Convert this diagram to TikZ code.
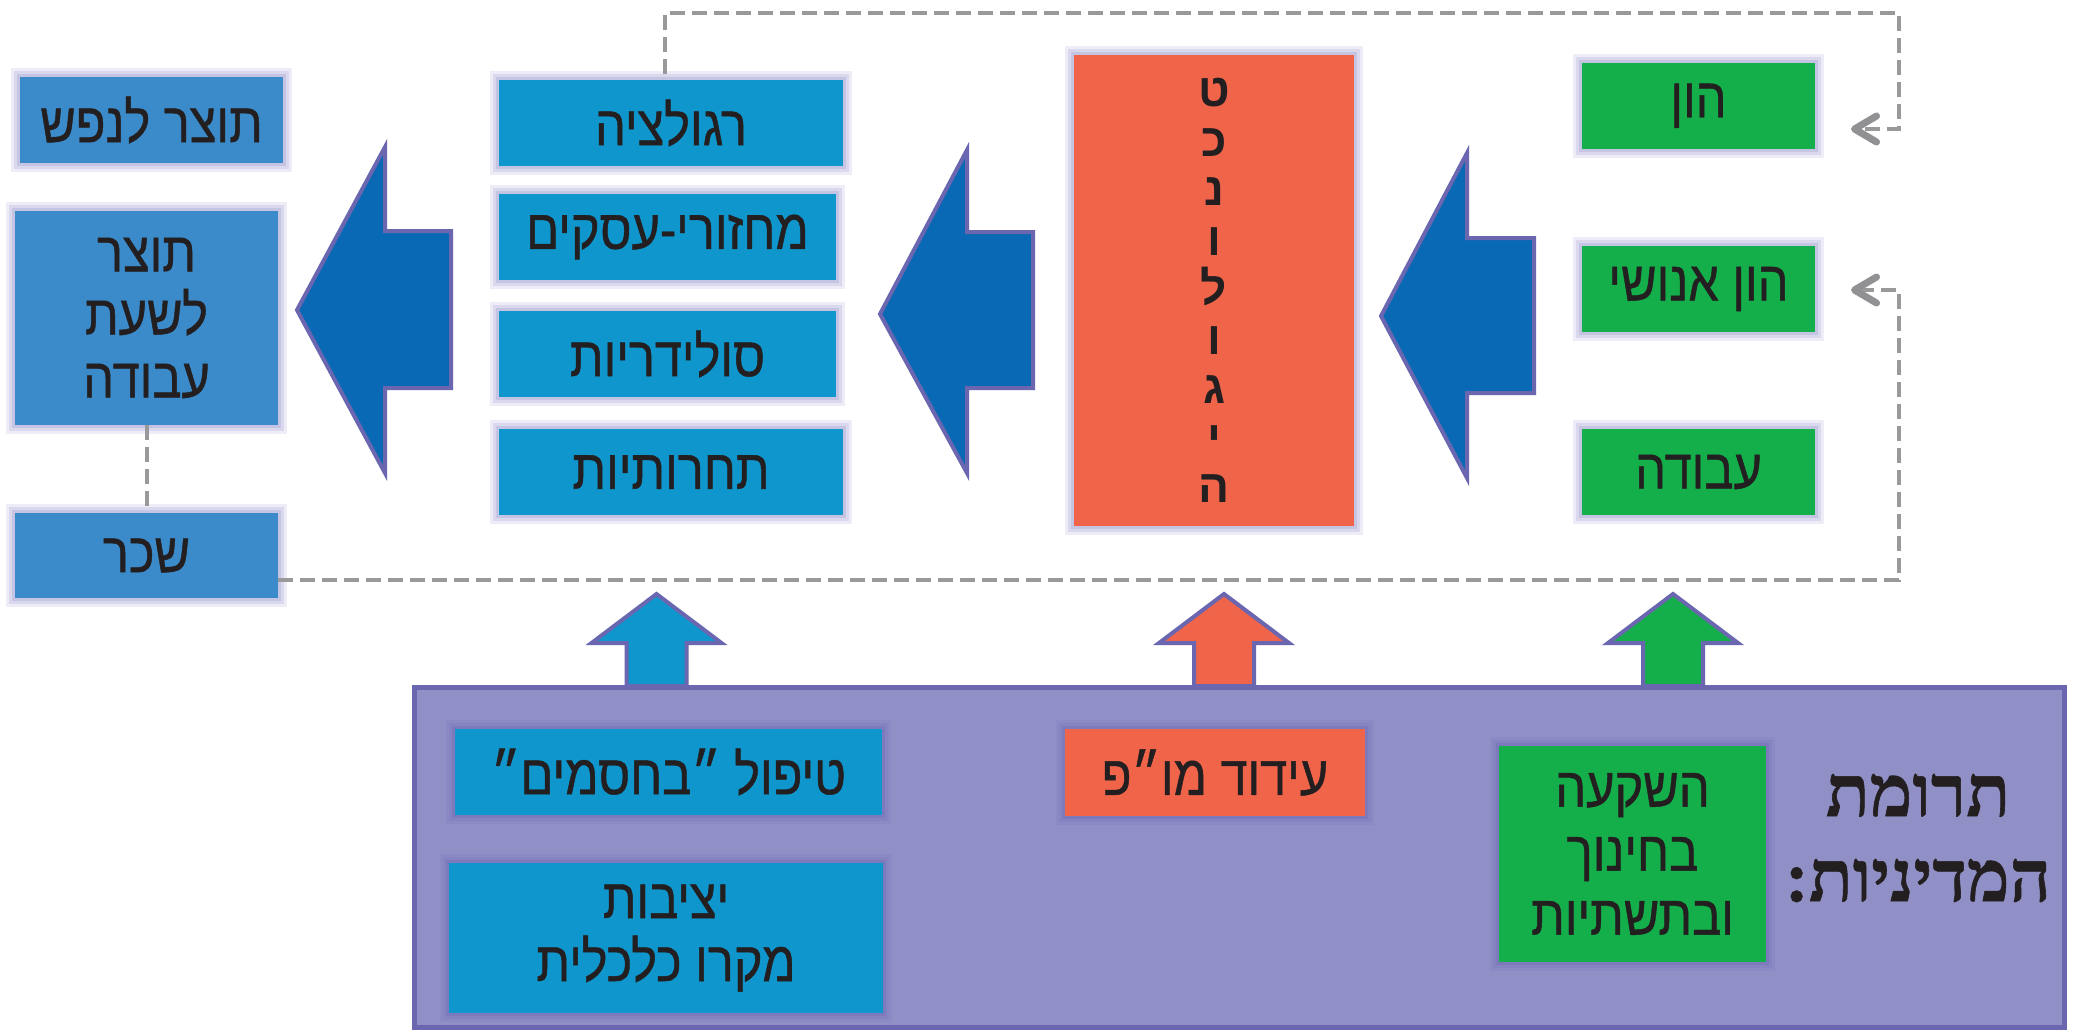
\documentclass[tikz,border=0pt]{standalone}
\usepackage{fontspec}
\setmainfont{Liberation Sans}
\newfontfamily\hebsans[Script=Hebrew, FakeStretch=0.87, FakeBold=0.8]{Liberation Sans}
\newfontfamily\hebbold[Script=Hebrew]{Liberation Sans}
\newfontfamily\hebserif[Script=Hebrew, FakeBold=0.8]{Liberation Serif}
\TeXXeTstate=1
\usetikzlibrary{arrows.meta}
\newcommand{\heb}[1]{\beginR #1\endR}
\definecolor{colLeft}{RGB}{59,138,201}
\definecolor{colMid}{RGB}{15,150,205}
\definecolor{colArrow}{RGB}{10,105,180}
\definecolor{colBorder}{RGB}{106,102,176}
\definecolor{colOrange}{RGB}{240,100,74}
\definecolor{colGreen}{RGB}{20,175,75}
\definecolor{colBig}{RGB}{145,144,198}
\definecolor{colGlowA}{RGB}{238,237,247}
\definecolor{colGlowB}{RGB}{218,216,237}
\definecolor{colGlowC}{RGB}{198,196,227}
\definecolor{colInGlowA}{RGB}{140,138,196}
\definecolor{colInGlowB}{RGB}{133,131,192}
\definecolor{colInGlowC}{RGB}{124,122,188}
\definecolor{colDash}{RGB}{153,153,153}
\definecolor{colTip}{RGB}{145,145,148}
\definecolor{colText}{RGB}{35,31,32}
\begin{document}
\begin{tikzpicture}[x=0.5pt,y=-0.5pt,
  box/.style={rectangle, inner sep=0pt, outer sep=0pt, align=center, text=colText,
    font=\hebsans\fontsize{28pt}{31.5pt}\selectfont},
  glow/.style={preaction={draw=colGlowA,line width=9pt}, preaction={draw=colGlowB,line width=6pt}, preaction={draw=colGlowC,line width=3pt}},
  inglow/.style={preaction={draw=colInGlowA,line width=9pt}, preaction={draw=colInGlowB,line width=6pt}, preaction={draw=colInGlowC,line width=3pt}},
  leftbox/.style={box, glow, fill=colLeft, minimum width=131.5pt},
  midbox/.style={box, glow, fill=colMid, minimum height=43pt},
  greenbox/.style={box, glow, fill=colGreen, minimum width=116.5pt, minimum height=42.75pt},
  blockarrow/.style={fill=colArrow, draw=colBorder, line width=2pt, line join=miter},
  uparrow/.style={draw=colBorder, line width=2pt, line join=miter},
  dashline/.style={draw=colDash, line width=2pt, dash pattern=on 7.5pt off 3.5pt},
  tipped/.style={-{Straight Barb[length=11pt,width=13pt,line width=3.5pt,round,color=colTip]}}
]
\useasboundingbox (0,0) rectangle (2076,1029);
\fill[white] (0,0) rectangle (2076,1029);

% left column
\node[leftbox, minimum height=43pt] (L1) at (151.5,120) {\heb{תוצר לנפש}};
\node[leftbox, minimum height=107pt] (L2) at (146.5,318) {\heb{תוצר}\\\heb{לשעת}\\\heb{עבודה}};
\node[leftbox, minimum height=42.5pt] (L3) at (146.5,555.5) {\heb{שכר}};

% middle column
\node[midbox, minimum width=172pt] (M1) at (671,123) {\heb{רגולציה}};
\node[midbox, minimum width=168.5pt] (M2) at (667.5,237) {\heb{מחזורי-עסקים}};
\node[midbox, minimum width=168.5pt] (M3) at (667.5,354) {\heb{סולידריות}};
\node[midbox, minimum width=172pt] (M4) at (671,472) {\heb{תחרותיות}};

% technology
\node[box, glow, fill=colOrange, minimum width=140pt, minimum height=235.5pt] (T) at (1214,290.5) {};
\node[align=center, text=colText, font=\hebbold\bfseries\fontsize{23pt}{24.75pt}\selectfont] (Tletters) at (T.center)
  {\heb{ט}\\\heb{כ}\\\heb{נ}\\\heb{ו}\\\heb{ל}\\\heb{ו}\\\heb{ג}\\\heb{י}\\\heb{ה}};

% inputs
\node[greenbox] (G1) at (1698.5,105.75) {\heb{הון}};
\node[greenbox] (G2) at (1698.5,289) {\heb{הון אנושי}};
\node[greenbox] (G3) at (1698.5,472) {\heb{עבודה}};

% block arrows
\draw[blockarrow] (297,310) -- (385,147) -- (385,231) -- (451,231) -- (451,388) -- (385,388) -- (385,473) -- cycle;
\draw[blockarrow] (880,314) -- (967,150) -- (967,232) -- (1033,232) -- (1033,388) -- (967,388) -- (967,473) -- cycle;
\draw[blockarrow] (1381,316) -- (1467,153) -- (1467,238) -- (1534,238) -- (1534,393) -- (1467,393) -- (1467,478) -- cycle;

% dashed connectors
\coordinate (A1) at (665,13);
\coordinate (A2) at (1899,13);
\coordinate (A3) at (1899,129);
\coordinate (tipA) at (1851,129);
\coordinate (B1) at (1899,580);
\coordinate (B2) at (1899,290);
\coordinate (tipB) at (1851,290);
\draw[dashline] (L2.south) -- (L3.north);
\draw[dashline, tipped] ([xshift=-3pt,yshift=3pt]M1.north) -- (A1) -- (A2) -- (A3) -- (tipA);
\draw[dashline, tipped] ([yshift=-12.25pt]L3.east) -- (B1) -- (B2) -- (tipB);

% policy box
\node[rectangle, fill=colBig, draw=colBorder, line width=2.5pt, minimum width=825pt, minimum height=170pt, inner sep=0pt] (P) at (1239,857) {};

% up arrows
\draw[uparrow, fill=colMid] (656.5,594) -- (721.5,643) -- (686.5,643) -- (686.5,686) -- (626.5,686) -- (626.5,643) -- (591.5,643) -- cycle;
\draw[uparrow, fill=colOrange] (1224,594) -- (1289,643) -- (1254,643) -- (1254,686) -- (1194,686) -- (1194,643) -- (1159,643) -- cycle;
\draw[uparrow, fill=colGreen] (1673,594) -- (1738,643) -- (1703,643) -- (1703,686) -- (1643,686) -- (1643,643) -- (1608,643) -- cycle;

% policy items
\node[box, inglow, fill=colMid, minimum width=213.5pt, minimum height=43pt] (PB1) at (668.5,772) {\heb{טיפול ״בחסמים״}};
\node[box, inglow, fill=colMid, minimum width=217pt, minimum height=75pt] (PB2) at (666,938) {\heb{יציבות}\\\heb{מקרו כלכלית}};
\node[box, inglow, fill=colOrange, minimum width=150pt, minimum height=43.5pt] (PB3) at (1215,772.5) {\heb{עידוד מו״פ}};
\node[box, inglow, fill=colGreen, minimum width=133.5pt, minimum height=108pt, font=\hebsans\fontsize{28pt}{32pt}\selectfont] (PB4) at (1632.5,854) {\heb{השקעה}\\\heb{בחינוך}\\\heb{ובתשתיות}};
\node[align=center, text=colText, font=\hebserif\bfseries\fontsize{36pt}{42.5pt}\selectfont] (title) at (1918,838) {\heb{תרומת}\\\heb{המדיניות:}};
\end{tikzpicture}
\end{document}
